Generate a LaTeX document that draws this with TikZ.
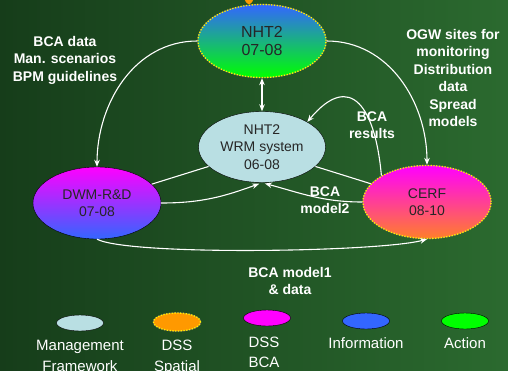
\documentclass[tikz,border=0pt]{standalone}
\usepackage{fontspec}
\setmainfont{Liberation Sans}
\usetikzlibrary{shapes.geometric, arrows.meta, positioning}

\definecolor{bgdark}{HTML}{163D1A}
\definecolor{bglight}{HTML}{2B6A2F}
\definecolor{infoblue}{HTML}{3366FF}
\definecolor{actgreen}{HTML}{00FF00}
\definecolor{bcamag}{HTML}{FF00FF}
\definecolor{spatorange}{HTML}{FF9900}
\definecolor{cerforange}{HTML}{FF7F2A}
\definecolor{mfblue}{HTML}{B9DFE3}
\definecolor{dotyellow}{HTML}{FFF200}

\begin{document}
\begin{tikzpicture}[x=1pt, y=1pt,
            >={Stealth[length=7pt, width=5.5pt]},
            proj/.style={ellipse, draw=black, thin, minimum width=128pt, minimum height=72pt, inner sep=0pt, align=center, text=black!85, font=\fontsize{14}{17.5}\selectfont},
            dssdot/.style={draw=dotyellow, line width=1.3pt, dash pattern=on 1.3pt off 1.5pt, preaction={draw=black!60, solid, line width=1.3pt}},
            flow/.style={->, white, line width=1.1pt},
            link/.style={white, line width=1.1pt},
            lbl/.style={text=white, align=center, inner sep=0pt, font=\bfseries\fontsize{14}{17.5}\selectfont},
            key/.style={ellipse, draw=black, thin, minimum width=47pt, minimum height=16pt, inner sep=0pt},
            keytext/.style={text=white, align=center, inner sep=0pt, font=\fontsize{15}{20.5}\selectfont}
        ]

% Slide background
            \useasboundingbox (0,0) rectangle (508,-370);
            \fill[left color=bgdark, right color=bglight] (0,0) rectangle (508,-370);
            \begin{scope}
                \clip (0,0) rectangle (508,-370);
                \fill[spatorange] (249,3) ellipse (4.5pt and 7pt);
            \end{scope}

% Projects
            \node[proj, top color=infoblue, bottom color=actgreen, dssdot, minimum height=73pt, font=\fontsize{16}{18}\selectfont] (nhttop) at (262,-41) {NHT2\\07-08};
            \node[proj, fill=mfblue, minimum width=127pt, minimum height=71pt] (wrm) at (262,-147) {NHT2\\WRM system\\06-08};
            \node[proj, top color=bcamag, bottom color=infoblue] (dwm) at (97,-203) {DWM-R\&D\\07-08};
            \node[proj, top color=bcamag, bottom color=cerforange, dssdot, minimum height=73pt] (cerf) at (427,-202) {CERF\\08-10};

% Connections
            \draw[flow, <->] (nhttop) -- (wrm);
            \draw[flow] (nhttop.west) to[out=180, in=90] (dwm.north);
            \draw[flow] (nhttop.east) to[out=0, in=90] (cerf.north);
            \draw[flow] (cerf.150) to[out=95, in=50, looseness=1.9] (wrm.29);
            \draw[link] (dwm.19) -- (wrm.200);
            \draw[link] (wrm.340) -- (cerf.162);
            \draw[flow, shorten >=3pt] (dwm.east) to[out=0, in=200] (wrm.south);
            \draw[flow, shorten >=3pt] (cerf.west) to[out=180, in=-15] (wrm.south);
            \draw[flow] (dwm.south) .. controls (130,-256) and (380,-252) .. (cerf.south);

% Flow labels
            \node[lbl] (lbldata) at (65,-60) {BCA data\\Man. scenarios\\BPM guidelines};
            \node[lbl] (lblogw) at (453,-78) {OGW sites for\\monitoring\\Distribution\\data\\Spread\\models};
            \node[lbl] (lblres) at (372,-125) {BCA\\results};
            \node[lbl] (lblmodtwo) at (325,-200) {BCA\\model2};
            \node[lbl] (lblmodone) at (290,-281) {BCA model1\\\& data};

% Legend
            \node[key, fill=mfblue] (keymf) at (80,-323) {};
            \node[key, fill=spatorange, dssdot, minimum height=18pt] (keyspat) at (177,-322) {};
            \node[key, fill=bcamag] (keybca) at (267,-318) {};
            \node[key, fill=infoblue] (keyinfo) at (366,-321) {};
            \node[key, fill=actgreen] (keyact) at (465,-321) {};

            \node[keytext, below=9pt of keymf] (txtmf) {Management\\Framework};
            \node[keytext, below=8.5pt of keyspat] (txtspat) {DSS\\Spatial};
            \node[keytext, below=10.5pt of keybca, xshift=-3pt] (txtbca) {DSS\\BCA};
            \node[keytext, below=8pt of keyinfo] (txtinfo) {Information};
            \node[keytext, below=8pt of keyact] (txtact) {Action};

        \end{tikzpicture}
\end{document}
